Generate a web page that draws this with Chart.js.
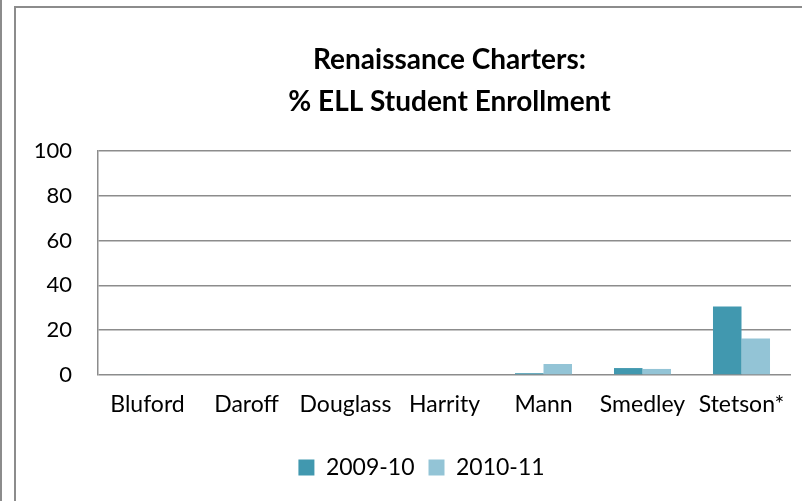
<!DOCTYPE html>
<html lang="en">
<head>
  <meta charset="UTF-8">
  <title>Renaissance Charters ELL</title>
  <style>
    html, body {
      margin: 0;
      padding: 0;
      background: #fff;
      overflow: hidden;
      width: 802px;
      height: 501px;
    }
    #outer {
      position: absolute;
      left: 0;
      top: 0;
      width: 2px;
      height: 501px;
      background: #8c8c8c;
    }
    #box {
      position: absolute;
      left: 14px;
      top: 6px;
      width: 900px;
      height: 520px;
      border-left: 2px solid #8c8c8c;
      border-top: 2px solid #8c8c8c;
    }
    #wrap {
      position: absolute;
      left: 16px;
      top: 8px;
      width: 884px;
      height: 493px;
    }
  </style>
</head>
<body>
  <div id="outer"></div>
  <div id="box"></div>
  <div id="wrap"><canvas id="grafico"></canvas></div>

  <script src="https://cdn.jsdelivr.net/npm/chart.js"></script>
  <script>
    // dados do gráfico
    const escolas = ["Bluford", "Daroff", "Douglass", "Harrity", "Mann", "Smedley", "Stetson*"];
    const ano2009 = [0.3, 0, 0, 0, 0.8, 3.1, 30.6];
    const ano2010 = [0, 0, 0, 0, 4.9, 2.7, 16.3];
    const ticksY = [0, 20, 40, 60, 80, 100];

    const fonte = "Lato, 'Open Sans', sans-serif";
    const cinza = "#8c8c8c";

    // ajusta a posição horizontal do título e da legenda
    const moverCaixas = {
      id: "moverCaixas",
      afterLayout(chart) {
        chart.legend.left -= 23;
        chart.legend.right -= 23;
        chart.titleBlock.left += 46;
        chart.titleBlock.right += 46;
      }
    };

    const ctx = document.getElementById("grafico").getContext("2d");
    const grafico = new Chart(ctx, {
      type: "bar",
      data: {
        labels: escolas,
        datasets: [
          {
            label: "2009-10",
            data: ano2009,
            backgroundColor: "#4198af",
            borderWidth: 0
          },
          {
            label: "2010-11",
            data: ano2010,
            backgroundColor: "#93c4d6",
            borderWidth: 0
          }
        ]
      },
      options: {
        responsive: true,
        maintainAspectRatio: false,
        animation: false,
        datasets: {
          bar: {
            categoryPercentage: 0.576,
            barPercentage: 1
          }
        },
        layout: {
          padding: { left: 0, right: 109, top: 0, bottom: 12 }
        },
        plugins: {
          title: {
            display: true,
            text: ["Renaissance Charters:", "% ELL Student Enrollment"],
            color: "#000",
            font: { family: fonte, size: 28, weight: "bold", lineHeight: 1.5 },
            padding: { top: 31, bottom: 28 }
          },
          legend: {
            position: "bottom",
            fullSize: false,
            labels: {
              color: "#000",
              font: { family: fonte, size: 23 },
              boxWidth: 16,
              boxHeight: 16,
              padding: 14
            }
          },
          tooltip: { enabled: false }
        },
        scales: {
          x: {
            grid: { display: false, drawTicks: false },
            border: { display: false },
            ticks: {
              color: "#000",
              font: { family: fonte, size: 23 },
              padding: 16,
              maxRotation: 0
            },
            afterFit(scale) { scale.height = 67; }
          },
          y: {
            min: 0,
            max: 100,
            afterBuildTicks(scale) {
              scale.ticks = ticksY.map(v => ({ value: v }));
            },
            grid: { color: cinza, lineWidth: 1.5, drawTicks: false },
            border: { display: true, color: cinza, width: 1.5 },
            ticks: {
              color: "#000",
              font: { family: fonte, size: 22 },
              padding: 26
            },
            afterFit(scale) { scale.width = 82; }
          }
        }
      },
      plugins: [moverCaixas]
    });
  </script>
</body>
</html>
